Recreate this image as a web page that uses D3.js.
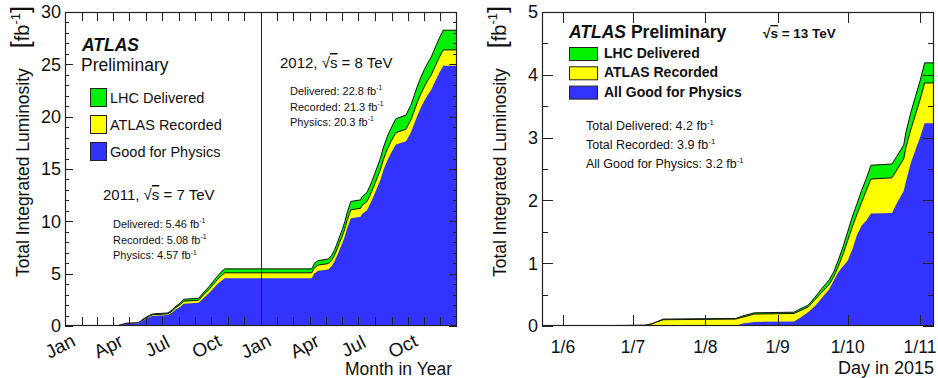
<!DOCTYPE html>
<html><head><meta charset="utf-8">
<script src="https://cdn.jsdelivr.net/npm/d3@7"></script>
<style>body{margin:0;background:#fff} svg{display:block;font-family:"Liberation Sans",Arial,Helvetica,sans-serif}</style>
</head><body><svg id="c" width="938" height="378"></svg>
<script>
// ---------- DATA: left panel (2011 + 2012), cumulative fb^-1 ----------
const leftDates = ["2011-01-01","2011-04-08","2011-04-16","2011-04-24","2011-05-18","2011-05-24","2011-05-31","2011-06-07","2011-06-13","2011-07-12","2011-07-20","2011-07-27","2011-08-04","2011-08-10","2011-09-07","2011-09-14","2011-09-21","2011-09-28","2011-10-05","2011-10-12","2011-10-19","2011-10-26",
 "2012-04-05","2012-04-10","2012-04-17","2012-05-06","2012-05-12","2012-05-17","2012-05-21","2012-05-26","2012-06-01","2012-06-06","2012-06-10","2012-06-17","2012-07-05","2012-07-08","2012-07-17","2012-07-22","2012-07-26","2012-08-01","2012-08-06","2012-08-11","2012-08-17","2012-08-24","2012-08-31","2012-09-09","2012-09-28","2012-10-02","2012-10-07","2012-10-13","2012-10-19","2012-10-25","2012-11-01","2012-11-07","2012-11-14","2012-11-18","2012-11-23","2012-11-29","2012-12-05","2012-12-06","2012-12-31"];
const leftDelivered = [0,0.02,0.12,0.26,0.30,0.55,0.80,1.00,1.15,1.25,1.55,1.90,2.20,2.55,2.65,3.05,3.45,3.85,4.30,4.75,5.15,5.46,
 5.46,5.95,6.25,6.40,6.75,7.20,7.70,8.40,9.20,10.00,10.80,11.90,12.05,12.35,12.75,13.30,13.80,14.60,15.30,16.00,17.10,18.10,18.90,19.80,20.15,20.60,21.10,22.00,22.90,23.70,24.50,25.10,25.70,26.20,26.80,27.50,28.10,28.26,28.26];
const leftRecorded = [0,0.02,0.11,0.24,0.28,0.51,0.74,0.93,1.07,1.16,1.44,1.77,2.05,2.37,2.46,2.84,3.21,3.58,4.00,4.42,4.79,5.08,
 5.08,5.54,5.82,5.96,6.28,6.71,7.17,7.83,8.57,9.32,10.07,11.10,11.24,11.52,11.89,12.40,12.87,13.62,14.27,14.92,15.95,16.89,17.63,18.47,18.80,19.22,19.69,20.53,21.37,22.12,22.86,23.42,23.98,24.45,25.01,25.67,26.23,26.38,26.38];
const leftPhysics = [0,0.01,0.10,0.22,0.25,0.46,0.67,0.84,0.96,1.05,1.30,1.59,1.84,2.13,2.22,2.55,2.89,3.22,3.60,3.98,4.31,4.57,
 4.57,5.01,5.27,5.41,5.72,6.12,6.56,7.19,7.90,8.61,9.32,10.30,10.44,10.70,11.06,11.55,11.99,12.70,13.33,13.95,14.93,15.82,16.53,17.33,17.64,18.04,18.49,19.29,20.09,20.80,21.52,22.05,22.58,23.03,23.56,24.19,24.72,24.87,24.87];
const leftXRange = ["2011-01-01","2013-01-01"];
const leftTickLabels = ["Jan","Apr","Jul","Oct","Jan","Apr","Jul","Oct"];
const leftTickLabelDates = ["2011-01-01","2011-04-01","2011-07-01","2011-10-01","2012-01-01","2012-04-01","2012-07-01","2012-10-01"];
const leftYTicks = [0,5,10,15,20,25,30];

// ---------- DATA: right panel (2015) ----------
const rightDates = ["2015-05-23","2015-06-05","2015-07-06","2015-07-09","2015-07-11","2015-07-14","2015-08-14","2015-08-17","2015-08-22","2015-09-08","2015-09-11","2015-09-14","2015-09-17","2015-09-20","2015-09-23","2015-09-25","2015-09-27","2015-09-29","2015-10-01","2015-10-03","2015-10-05","2015-10-07","2015-10-09","2015-10-11","2015-10-20","2015-10-22","2015-10-25","2015-10-26","2015-10-28","2015-10-30","2015-11-01","2015-11-03","2015-11-07"];
const rightDelivered = [0,0.003,0.012,0.035,0.065,0.11,0.12,0.16,0.21,0.22,0.28,0.33,0.46,0.60,0.73,0.86,1.05,1.26,1.50,1.74,1.95,2.16,2.35,2.56,2.58,2.70,2.88,3.09,3.39,3.65,3.90,4.19,4.19];
const rightRecorded = [0,0.002,0.01,0.03,0.06,0.10,0.11,0.14,0.19,0.20,0.25,0.30,0.42,0.54,0.66,0.78,0.95,1.14,1.36,1.58,1.78,1.97,2.16,2.34,2.36,2.48,2.66,2.85,3.12,3.36,3.60,3.87,3.87];
const rightPhysics = [0,0,0,0,0,0,0,0.04,0.065,0.07,0.14,0.22,0.32,0.45,0.58,0.72,0.86,0.95,1.04,1.22,1.45,1.60,1.68,1.79,1.80,1.95,2.15,2.30,2.59,2.80,3.00,3.23,3.23];
const rightXRange = ["2015-05-23","2015-11-07"];
const rightTickLabels = ["1/6","1/7","1/8","1/9","1/10","1/11"];
const rightTickDates = ["2015-06-01","2015-07-01","2015-08-01","2015-09-01","2015-10-01","2015-11-01"];
const rightYTicks = [0,1,2,3,4,5];

const GREEN = "#00f000", YELLOW = "#ffff00", BLUE = "#3333ff";
const parse = d3.timeParse("%Y-%m-%d");
const svg = d3.select("#c");

function drawPanel(cfg) {
  const g = svg.append("g");
  const x = d3.scaleTime().domain(cfg.xRange.map(parse)).range([cfg.left, cfg.right]);
  const y = d3.scaleLinear().domain([0, cfg.yMax]).range([cfg.bottom, cfg.top]);
  const dates = cfg.dates.map(parse);
  const clipId = "clip" + cfg.id;
  g.append("clipPath").attr("id", clipId).append("rect")
    .attr("x", cfg.left).attr("y", cfg.top).attr("width", cfg.right - cfg.left).attr("height", cfg.bottom - cfg.top);
  const plot = g.append("g").attr("clip-path", `url(#${clipId})`);
  const series = [
    {vals: cfg.delivered, fill: GREEN, stroke: true},
    {vals: cfg.recorded, fill: YELLOW, stroke: true},
    {vals: cfg.physics, fill: BLUE, stroke: false}
  ];
  series.forEach(s => {
    const pts = dates.map((d, i) => [d, s.vals[i]]);
    pts.push([x.domain()[1], s.vals[s.vals.length - 1]]);
    const area = d3.area().curve(d3.curveLinear).x(d => x(d[0])).y0(y(0)).y1(d => y(d[1]));
    plot.append("path").attr("d", area(pts)).attr("fill", s.fill);
    if (s.stroke) {
      const line = d3.line().curve(d3.curveLinear).x(d => x(d[0])).y(d => y(d[1]));
      plot.append("path").attr("d", line(pts)).attr("fill", "none").attr("stroke", "#111").attr("stroke-width", 1);
    }
  });
  if (cfg.divider) {
    const xd = Math.round(x(parse(cfg.divider))) + 0.5;
    g.append("line").attr("x1", xd).attr("x2", xd).attr("y1", cfg.top).attr("y2", cfg.bottom).attr("stroke", "#222").attr("stroke-width", 1);
  }
  const ax = g.append("g").attr("stroke", "#222").attr("stroke-width", 1);
  const minor = d3.range(0, cfg.yMax + 1e-9, cfg.yMinor);
  minor.forEach(v => {
    const isMajor = Math.abs(v / cfg.yMajor - Math.round(v / cfg.yMajor)) < 1e-6;
    const len = isMajor ? cfg.yMajorLen : cfg.yMinorLen;
    const yy = Math.round(y(v)) + 0.5;
    ax.append("line").attr("x1", cfg.left).attr("x2", cfg.left + len).attr("y1", yy).attr("y2", yy);
    ax.append("line").attr("x1", cfg.right).attr("x2", cfg.right - len).attr("y1", yy).attr("y2", yy);
  });
  cfg.xTicks.forEach(d => {
    const xx = Math.round(x(d)) + 0.5;
    ax.append("line").attr("x1", xx).attr("x2", xx).attr("y1", cfg.bottom).attr("y2", cfg.bottom - cfg.xTickLen);
    ax.append("line").attr("x1", xx).attr("x2", xx).attr("y1", cfg.top).attr("y2", cfg.top + cfg.xTickLen);
  });
  g.append("rect").attr("x", cfg.left + 0.5).attr("y", cfg.top + 0.5)
    .attr("width", cfg.right - cfg.left - 1).attr("height", cfg.bottom - cfg.top - 1)
    .attr("fill", "none").attr("stroke", "#222").attr("stroke-width", 1.2);
  cfg.yTicks.forEach(v => {
    g.append("text").attr("x", cfg.left - 4).attr("y", y(v)).attr("dy", "0.36em")
      .attr("text-anchor", "end").attr("font-size", 18).attr("fill", "#111").text(v);
  });
  return {x, y, g};
}

// y-axis title: main words span bottom 277 -> 68, bracket part ends near 13
function yTitle(g, tx) {
  const t = g.append("text").attr("transform", `translate(${tx},277) rotate(-90)`).attr("font-size", 16.5).attr("fill", "#111");
  const main = t.append("tspan").text("Total Integrated Luminosity");
  const len0 = main.node().getComputedTextLength();
  if (len0 > 0) t.attr("font-size", 16.5 * 209 / len0);
  const gap = t.append("tspan").attr("dx", 7).attr("font-size", 25).text("[");
  t.append("tspan").attr("font-size", 20).text("fb");
  t.append("tspan").attr("font-size", 13).attr("dy", -9).text("-1");
  t.append("tspan").attr("font-size", 25).attr("dy", 9).text("]");
  const total = t.node().getComputedTextLength();
  if (total > 0) gap.attr("dx", Math.max(3, 7 + 264 - total));
}
function sqrtLabel(g, x0, y0, size, pre, post, bold) {
  const t = g.append("text").attr("x", x0).attr("y", y0).attr("font-size", size).attr("fill", "#111");
  if (bold) t.attr("font-weight", "bold");
  t.append("tspan").text(pre + "√");
  t.append("tspan").style("text-decoration", "overline").text("s");
  t.append("tspan").text(post);
}
function statLines(g, x0, y0, dy, size, lines) {
  lines.forEach((s, i) => {
    const t = g.append("text").attr("x", x0).attr("y", y0 + i * dy).attr("font-size", size).attr("fill", "#111");
    t.append("tspan").text(s);
    t.append("tspan").attr("font-size", size * 0.62).attr("dy", -size * 0.42).text("-1");
  });
}

// ---------- LEFT PANEL ----------
const L = drawPanel({
  id: "L", left: 65, right: 457, top: 12, bottom: 326, yMax: 30,
  xRange: leftXRange, dates: leftDates, delivered: leftDelivered, recorded: leftRecorded, physics: leftPhysics,
  yMajor: 5, yMinor: 1, yMajorLen: 8, yMinorLen: 4,
  xTicks: d3.timeMonth.range(parse("2011-02-01"), parse("2013-01-01")), xTickLen: 9,
  yTicks: leftYTicks, divider: "2012-01-01"
});
leftTickLabels.forEach((t, i) => {
  const xx = L.x(parse(leftTickLabelDates[i])) - 5;
  L.g.append("text").attr("transform", `translate(${xx},346) rotate(-27)`)
    .attr("text-anchor", "middle").attr("dy", "0.35em").attr("font-size", 19).attr("fill", "#111").text(t);
});
L.g.append("text").attr("x", 452).attr("y", 375).attr("text-anchor", "end").attr("font-size", 17.5).attr("fill", "#111").text("Month in Year");
yTitle(L.g, 29);
L.g.append("text").attr("x", 82).attr("y", 51).attr("font-size", 17.5).attr("font-weight", "bold").attr("font-style", "italic").attr("fill", "#111").text("ATLAS");
L.g.append("text").attr("x", 81).attr("y", 71).attr("font-size", 17.5).attr("fill", "#111").text("Preliminary");
const leftLegend = [["LHC Delivered", GREEN], ["ATLAS Recorded", YELLOW], ["Good for Physics", BLUE]];
leftLegend.forEach((d, i) => {
  const y0 = 88 + i * 27;
  L.g.append("rect").attr("x", 90.5).attr("y", y0 + 0.5).attr("width", 16).attr("height", 18).attr("fill", d[1]).attr("stroke", "#222").attr("stroke-width", 1);
  L.g.append("text").attr("x", 110).attr("y", y0 + 15).attr("font-size", 14.5).attr("fill", "#111").text(d[0]);
});
sqrtLabel(L.g, 280, 68, 15, "2012, ", " = 8 TeV");
sqrtLabel(L.g, 103, 200, 15, "2011, ", " = 7 TeV");
statLines(L.g, 290, 95, 15.5, 11, ["Delivered: 22.8 fb", "Recorded: 21.3 fb", "Physics: 20.3 fb"]);
statLines(L.g, 113, 228, 15.7, 11, ["Delivered: 5.46 fb", "Recorded: 5.08 fb", "Physics: 4.57 fb"]);

// ---------- RIGHT PANEL ----------
const R = drawPanel({
  id: "R", left: 542, right: 934, top: 12, bottom: 326, yMax: 5,
  xRange: rightXRange, dates: rightDates, delivered: rightDelivered, recorded: rightRecorded, physics: rightPhysics,
  yMajor: 1, yMinor: 0.5, yMajorLen: 11, yMinorLen: 6,
  xTicks: rightTickDates.map(parse), xTickLen: 11,
  yTicks: rightYTicks
});
rightTickLabels.forEach((t, i) => {
  R.g.append("text").attr("x", R.x(parse(rightTickDates[i]))).attr("y", 353).attr("text-anchor", "middle")
    .attr("font-size", 17.5).attr("fill", "#111").text(t);
});
R.g.append("text").attr("x", 934).attr("y", 374).attr("text-anchor", "end").attr("font-size", 18).attr("fill", "#111").text("Day in 2015");
yTitle(R.g, 506);
{
  const t = R.g.append("text").attr("x", 569).attr("y", 38).attr("font-size", 17.5).attr("font-weight", "bold").attr("fill", "#111");
  t.append("tspan").attr("font-style", "italic").text("ATLAS");
  t.append("tspan").text(" Preliminary");
}
sqrtLabel(R.g, 763, 38, 13.5, "", " = 13 TeV", true);
const rightLegend = [["LHC Delivered", GREEN], ["ATLAS Recorded", YELLOW], ["All Good for Physics", BLUE]];
rightLegend.forEach((d, i) => {
  const y0 = 47 + i * 19.3;
  R.g.append("rect").attr("x", 569.5).attr("y", y0 + 0.5).attr("width", 28).attr("height", 13).attr("fill", d[1]).attr("stroke", "#222").attr("stroke-width", 1);
  R.g.append("text").attr("x", 604).attr("y", y0 + 11).attr("font-size", 14).attr("font-weight", "bold").attr("fill", "#111").text(d[0]);
});
statLines(R.g, 586, 130, 19.2, 12.5, ["Total Delivered: 4.2 fb", "Total Recorded: 3.9 fb", "All Good for Physics: 3.2 fb"]);
</script></body></html>
